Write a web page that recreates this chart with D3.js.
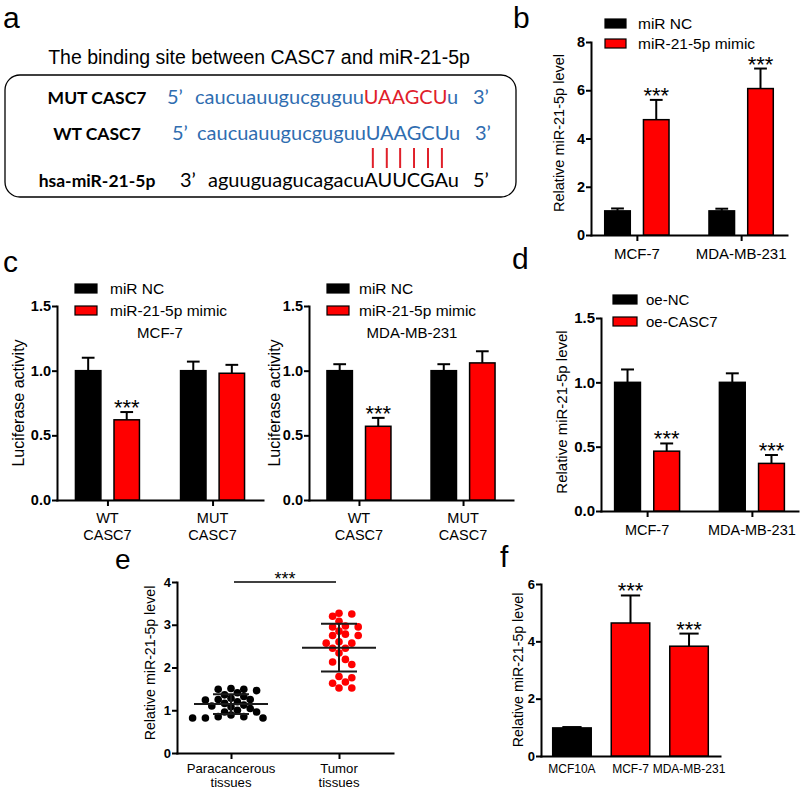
<!DOCTYPE html>
<html><head><meta charset="utf-8">
<script src="https://cdn.jsdelivr.net/npm/d3@7"></script>
<style>body{margin:0;background:#fff} svg{display:block}</style>
</head><body><svg id="fig" width="800" height="789"></svg>
<script>
// ================= DATA =================
// Panel a
const aTitle = "The binding site between CASC7 and miR-21-5p";
const aRowLabels = ["MUT CASC7", "WT CASC7", "hsa-miR-21-5p"];
const aMutSeq = ["caucuauugucguguu", "UAAGCU", "u"];
const aWtSeq = ["caucuauugucguguu", "UAAGCU", "u"];
const aMirSeq = ["aguuguagucagacu", "AUUCGA", "u"];
const aPairCount = 6;

// Panel b
const bCategories = ["MCF-7", "MDA-MB-231"];
const bSeries = ["miR NC", "miR-21-5p mimic"];
const bNC = [1.0, 1.0];
const bNCErr = [0.1, 0.09];
const bMimic = [4.78, 6.07];
const bMimicErr = [0.82, 0.83];
const bMimicSig = ["***", "***"];
const bYTicks = [0, 2, 4, 6, 8];

// Panel c
const cCategories = [["WT", "CASC7"], ["MUT", "CASC7"]];
const cSeries = ["miR NC", "miR-21-5p mimic"];
const cCellLines = ["MCF-7", "MDA-MB-231"];
const cMcf7NC = [1.0, 1.0];
const cMcf7NCErr = [0.1, 0.07];
const cMcf7Mimic = [0.62, 0.98];
const cMcf7MimicErr = [0.06, 0.065];
const cMcf7Sig = ["***", ""];
const cMdaNC = [1.0, 1.0];
const cMdaNCErr = [0.05, 0.05];
const cMdaMimic = [0.57, 1.06];
const cMdaMimicErr = [0.065, 0.09];
const cMdaSig = ["***", ""];
const cYTicks = [0, 0.5, 1.0, 1.5];

// Panel d
const dCategories = ["MCF-7", "MDA-MB-231"];
const dSeries = ["oe-NC", "oe-CASC7"];
const dNC = [1.0, 1.0];
const dNCErr = [0.1, 0.07];
const dCasc7 = [0.465, 0.37];
const dCasc7Err = [0.06, 0.065];
const dCasc7Sig = ["***", "***"];
const dYTicks = [0, 0.5, 1.0, 1.5];

// Panel e
const eGroups = [["Paracancerous", "tissues"], ["Tumor", "tissues"]];
const eParacancerous = [1.49, 1.49, 1.51, 1.46, 1.41, 1.36, 1.25, 1.24, 1.2, 1.28, 1.32, 1.25, 1.08,
  1.12, 1.16, 1.04, 1.1, 1.0, 0.96, 0.89, 0.96, 0.85, 0.85, 0.82, 0.82, 0.82];
const eTumor = [3.25, 3.2, 3.08, 3.27, 2.95, 2.95, 2.97, 2.85, 2.78, 2.75, 2.75, 2.57, 2.6, 2.57,
  2.45, 2.45, 2.34, 2.19, 2.13, 2.07, 1.76, 1.66, 1.79, 1.63, 1.52, 1.52];
const eSig = "***";
const eYTicks = [0, 1, 2, 3, 4];

// Panel f
const fCategories = ["MCF10A", "MCF-7", "MDA-MB-231"];
const fValues = [0.98, 4.64, 3.83];
const fErr = [0.03, 0.96, 0.44];
const fSig = ["", "***", "***"];
const fYTicks = [0, 2, 4, 6];

// ================= DRAWING =================
const svg = d3.select("#fig");
const FONT = "'Liberation Sans', Arial, Helvetica, sans-serif";
const SEQFONT = "Lato, 'Open Sans', sans-serif";
const RED = "#ff0000";
const BLACK = "#000";

function txt(g, x, y, s, size, opts = {}) {
  return g.append("text").attr("x", x).attr("y", y).text(s)
    .attr("font-family", opts.family || FONT).attr("font-size", size)
    .attr("font-weight", opts.weight || "normal")
    .attr("text-anchor", opts.anchor || "start")
    .attr("fill", opts.fill || "#000");
}

function yAxis(y, ticks, fmt, x, size) {
  const g = svg.append("g").attr("transform", `translate(${x},0)`)
    .call(d3.axisLeft(y).tickValues(ticks).tickFormat(fmt).tickSize(5).tickPadding(1).tickSizeOuter(0));
  g.attr("font-family", FONT).attr("font-size", size).attr("font-weight", "bold");
  g.select(".domain").attr("stroke", "#000").attr("stroke-width", 2).attr("stroke-linecap", "square");
  g.selectAll(".tick line").attr("stroke", "#000").attr("stroke-width", 2);
  g.selectAll(".tick text").attr("fill", "#000");
  return g;
}

function xAxis(x, y0, tickLen) {
  const g = svg.append("g").attr("transform", `translate(0,${y0})`)
    .call(d3.axisBottom(x).tickFormat("").tickSize(tickLen).tickSizeOuter(0));
  g.select(".domain").attr("stroke", "#000").attr("stroke-width", 2).attr("stroke-linecap", "square");
  g.selectAll(".tick line").attr("stroke", "#000").attr("stroke-width", 2);
  return g;
}

function xLabels(x, keyFn, cats, baseline, size, lineH) {
  cats.forEach(c => {
    const lines = Array.isArray(c) ? c : [c];
    const t = svg.append("text").attr("font-family", FONT).attr("font-size", size)
      .attr("text-anchor", "middle").attr("fill", "#000");
    lines.forEach((l, i) => t.append("tspan").attr("x", x(keyFn(c))).attr("y", baseline + i * lineH).text(l));
  });
}

function yTitle(cx, cy, s, size) {
  svg.append("text").attr("transform", `translate(${cx},${cy}) rotate(-90)`)
    .attr("text-anchor", "middle").attr("dy", "0.35em")
    .attr("font-family", FONT).attr("font-size", size).attr("fill", "#000").text(s);
}

function legend(x, tops, labels, fills, w, h, textX, size) {
  labels.forEach((l, i) => {
    svg.append("rect").attr("x", x).attr("y", tops[i]).attr("width", w).attr("height", h)
      .attr("fill", fills[i]).attr("stroke", "#000").attr("stroke-width", 1.2);
    txt(svg, textX, tops[i] + h / 2, l, size).attr("dy", "0.36em");
  });
}

function barWithErr(cx, bw, y, v, e, fill, sig, starSize) {
  svg.append("line").attr("x1", cx).attr("x2", cx).attr("y1", y(v)).attr("y2", y(v + e))
    .attr("stroke", "#000").attr("stroke-width", 2);
  svg.append("line").attr("x1", cx - bw / 4).attr("x2", cx + bw / 4).attr("y1", y(v + e)).attr("y2", y(v + e))
    .attr("stroke", "#000").attr("stroke-width", 2);
  svg.append("rect").attr("x", cx - bw / 2).attr("y", y(v)).attr("width", bw).attr("height", y(0) - y(v))
    .attr("fill", fill).attr("stroke", "#000").attr("stroke-width", 1.5);
  if (sig) txt(svg, cx, y(v + e) + 3, sig, starSize, { anchor: "middle" });
}

function groupedChart(o) {
  const y = d3.scaleLinear().domain([0, o.yMax]).range([o.y0, o.yTop]);
  const keys = o.cats.map((c, i) => i);
  const xo = d3.scalePoint().domain(keys).range([o.x0, o.x1]).padding(o.pad);
  const xi = d3.scaleBand().domain(o.series.map(s => s.name)).range([-o.gw / 2, o.gw / 2]).paddingInner(0.34);
  xAxis(xo, o.y0, 6);
  yAxis(y, o.ticks, o.fmt, o.x0, o.tickSize);
  o.series.forEach(s => {
    s.values.forEach((v, i) => {
      const cx = xo(i) + xi(s.name) + xi.bandwidth() / 2;
      barWithErr(cx, xi.bandwidth(), y, v, s.errs[i], s.fill, s.sig ? s.sig[i] : "", 22);
    });
  });
  xLabels(xo, c => o.cats.indexOf(c), o.cats, o.labelBase, o.labelSize, 17);
  return y;
}

// ---------- Panel letters ----------
[["a", 3, 28, 30], ["b", 513, 28, 30], ["c", 3, 272, 30], ["d", 512, 269, 30], ["e", 115, 569, 28], ["f", 500, 567, 30]]
  .forEach(([l, x, y, s]) => txt(svg, x, y, l, s));

// ---------- Panel a ----------
txt(svg, 259, 64, aTitle, 19.5, { anchor: "middle" });
svg.append("rect").attr("x", 5).attr("y", 75).attr("width", 511).attr("height", 122).attr("rx", 15)
  .attr("fill", "none").attr("stroke", "#000").attr("stroke-width", 1.3);
const BLUE = "#2f6db0", SEQRED = "#e0202a";
const rowBase = [104, 140, 187];
const SEQSIZE = 20;
aRowLabels.forEach((l, i) => txt(svg, 97, rowBase[i], l, 17.5, { family: SEQFONT, weight: "bold", anchor: "middle" }));
function seqRow(base, endA, xA, seg, xS, endB, xB, colors) {
  txt(svg, xA, base, endA, SEQSIZE, { family: SEQFONT, fill: colors[0] });
  const t = svg.append("text").attr("x", xS).attr("y", base).attr("font-family", SEQFONT).attr("font-size", SEQSIZE);
  seg.forEach((s, i) => t.append("tspan").attr("fill", colors[i + 1]).text(s));
  txt(svg, xB, base, endB, SEQSIZE, { family: SEQFONT, fill: colors[0] });
  return t;
}
seqRow(rowBase[0], "5’", 167, aMutSeq, 195, "3’", 473, [BLUE, BLUE, SEQRED, BLUE]);
const wtText = seqRow(rowBase[1], "5’", 172, aWtSeq, 197, "3’", 475, [BLUE, BLUE, BLUE, BLUE]);
seqRow(rowBase[2], "3’", 180, aMirSeq, 208, "5’", 473, ["#000", "#000", "#000", "#000"]);
{
  const start = aWtSeq[0].length;
  const node = wtText.node();
  for (let k = 0; k < aPairCount; k++) {
    const ext = node.getExtentOfChar(start + k);
    const cx = ext.x + ext.width / 2;
    svg.append("line").attr("x1", cx).attr("x2", cx).attr("y1", 148).attr("y2", 168)
      .attr("stroke", SEQRED).attr("stroke-width", 2);
  }
}

// ---------- Panel b ----------
groupedChart({
  cats: bCategories, x0: 591, x1: 787, pad: 0.44, gw: 64.3, y0: 235, yTop: 42, yMax: 8,
  ticks: bYTicks, fmt: d3.format("d"), tickSize: 14.5, labelBase: 259, labelSize: 15,
  series: [
    { name: bSeries[0], values: bNC, errs: bNCErr, fill: BLACK },
    { name: bSeries[1], values: bMimic, errs: bMimicErr, fill: RED, sig: bMimicSig }
  ]
});
legend(605, [19, 39], bSeries, [BLACK, RED], 21, 9, 638, 15.5);
yTitle(559, 133, "Relative miR-21-5p level", 14.5);

// ---------- Panel c ----------
const cLeft = { x0: 57, x1: 263 }, cRight = { x0: 309, x1: 513 };
[[cLeft, cMcf7NC, cMcf7NCErr, cMcf7Mimic, cMcf7MimicErr, cMcf7Sig, cCellLines[0], 75, 110, 18],
 [cRight, cMdaNC, cMdaNCErr, cMdaMimic, cMdaMimicErr, cMdaSig, cCellLines[1], 327, 359, 274]]
  .forEach(([p, nc, ncE, mm, mmE, sig, title, lx, tx, yt]) => {
    groupedChart({
      cats: cCategories, x0: p.x0, x1: p.x1, pad: 0.48, gw: 64, y0: 500, yTop: 306, yMax: 1.5,
      ticks: cYTicks, fmt: d3.format(".1f"), tickSize: 14.5, labelBase: 523, labelSize: 14.5,
      series: [
        { name: cSeries[0], values: nc, errs: ncE, fill: BLACK },
        { name: cSeries[1], values: mm, errs: mmE, fill: RED, sig: sig }
      ]
    });
    legend(lx, [284, 306], cSeries, [BLACK, RED], 22, 9, tx, 15.5);
    txt(svg, p.x0 + 103, 338, title, 15, { anchor: "middle" });
    yTitle(yt, 403, "Luciferase activity", 16);
  });

// ---------- Panel d ----------
groupedChart({
  cats: dCategories, x0: 601, x1: 798, pad: 0.44, gw: 65, y0: 511, yTop: 318, yMax: 1.5,
  ticks: dYTicks, fmt: d3.format(".1f"), tickSize: 15, labelBase: 535, labelSize: 14.5,
  series: [
    { name: dSeries[0], values: dNC, errs: dNCErr, fill: BLACK },
    { name: dSeries[1], values: dCasc7, errs: dCasc7Err, fill: RED, sig: dCasc7Sig }
  ]
});
legend(613, [295, 317], dSeries, [BLACK, RED], 24, 9, 646, 15);
yTitle(562, 412, "Relative miR-21-5p level", 15);

// ---------- Panel e ----------
{
  const y = d3.scaleLinear().domain([0, 4]).range([753, 582]);
  const keys = [0, 1];
  const x = d3.scalePoint().domain(keys).range([177, 393]).padding(0.5);
  xAxis(x, 753, 6);
  yAxis(y, eYTicks, d3.format("d"), 177, 13);
  xLabels(x, c => eGroups.indexOf(c), eGroups, 773, 13.2, 14);
  yTitle(150, 663, "Relative miR-21-5p level", 14.2);

  function beeswarm(values, cx, step, minDist) {
    const placed = [];
    const out = new Array(values.length);
    const order = d3.range(values.length).sort((a, b) => d3.descending(values[a], values[b]));
    for (const i of order) {
      const py = y(values[i]);
      for (let k = 0; k < 80; k++) {
        const off = (k === 0 ? 0 : (k % 2 ? 1 : -1) * Math.ceil(k / 2)) * step;
        const px = cx + off;
        if (placed.every(p => Math.hypot(p.x - px, p.y - py) >= minDist)) {
          placed.push({ x: px, y: py }); out[i] = { x: px, y: py }; break;
        }
      }
    }
    return out;
  }
  [[eParacancerous, BLACK, 0], [eTumor, RED, 1]].forEach(([vals, col, k]) => {
    const pts = beeswarm(vals, x(k), 6.4, 7.0);
    svg.append("g").selectAll("circle").data(pts).join("circle")
      .attr("cx", d => d.x).attr("cy", d => d.y).attr("r", 3.8).attr("fill", col);
    const m = d3.mean(vals), sd = d3.deviation(vals);
    const cx = x(k);
    const ln = (x1, x2, y1, y2) => svg.append("line").attr("x1", x1).attr("x2", x2).attr("y1", y1).attr("y2", y2)
      .attr("stroke", "#1a1a1a").attr("stroke-width", 2);
    ln(cx - 37, cx + 37, y(m), y(m));
    ln(cx - 18, cx + 18, y(m + sd), y(m + sd));
    ln(cx - 18, cx + 18, y(m - sd), y(m - sd));
    ln(cx, cx, y(m - sd), y(m + sd));
  });
  // significance bracket
  svg.append("line").attr("x1", x(0) + 3).attr("x2", x(1) - 3).attr("y1", y(4)).attr("y2", y(4))
    .attr("stroke", "#000").attr("stroke-width", 1.5);
  txt(svg, (x(0) + x(1)) / 2, y(4) + 3, eSig, 18, { anchor: "middle" });
}

// ---------- Panel f ----------
{
  const y = d3.scaleLinear().domain([0, 6]).range([756, 584]);
  const x = d3.scaleBand().domain(fCategories).range([541, 720]).paddingInner(0.342).paddingOuter(0.2);
  xAxis(x, 756, 0);
  yAxis(y, fYTicks, d3.format("d"), 541, 13);
  fCategories.forEach((c, i) => {
    barWithErr(x(c) + x.bandwidth() / 2, x.bandwidth(), y, fValues[i], fErr[i], i === 0 ? BLACK : RED, fSig[i], 22);
  });
  const xc = c => x(c) + x.bandwidth() / 2;
  fCategories.forEach(c => txt(svg, xc(c), 773, c, 12, { anchor: "middle" }));
  yTitle(518, 670, "Relative miR-21-5p level", 14.2);
}
</script></body></html>
